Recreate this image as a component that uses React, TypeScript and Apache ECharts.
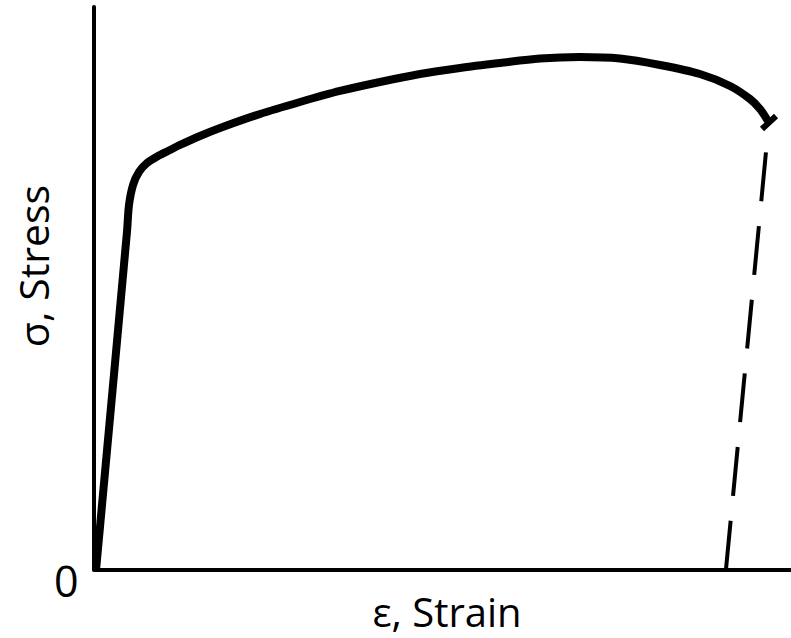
import React, { useEffect, useRef } from "react";
import * as echarts from "echarts";

// Stress–strain curve (abstract units: strain 0–100, stress 0–100)
const curveStrain = [0.3, 4.73, 5.02, 5.6, 6.46, 7.6, 9.18, 10.9, 12.34, 15.21, 18.08, 23.82, 29.56, 35.29, 41.03, 46.77, 52.51, 58.25, 63.99, 69.73, 75.47, 81.21, 86.94, 91.25, 94.12, 95.55, 96.7];
const curveStress = [0, 60.0, 64.8, 68.36, 70.67, 72.27, 73.51, 74.58, 75.47, 77.07, 78.49, 80.98, 83.11, 85.07, 86.67, 88.09, 89.16, 90.04, 90.84, 91.11, 90.84, 89.69, 88.09, 85.96, 83.64, 81.87, 79.73];

// Fracture mark at the end of the curve
const fractureStrain = [95.84, 97.85];
const fractureStress = [78.31, 80.62];

// Elastic unloading (dashed) line
const unloadStrain = [90.67, 96.41];
const unloadStress = [0, 74.22];

const originLabel = "0";
const xName = "ε, Strain";
const yName = "σ, Stress";

const zip = (a: number[], b: number[]) => a.map((v, i) => [v, b[i]]);

export default function App() {
  const ref = useRef<HTMLDivElement>(null);
  useEffect(() => {
    if (!ref.current) return;
    const chart = echarts.init(ref.current, null, { renderer: "svg" });
    const font = "'Open Sans', sans-serif";
    chart.setOption({
      animation: false,
      backgroundColor: "#ffffff",
      grid: { left: 94, right: 0, top: 7, bottom: 68.5, containLabel: false },
      xAxis: {
        type: "value",
        min: 0,
        max: 100,
        axisLine: { show: true, onZero: false, lineStyle: { color: "#000", width: 4 } },
        axisTick: { show: false },
        axisLabel: { show: false },
        splitLine: { show: false },
      },
      yAxis: {
        type: "value",
        min: 0,
        max: 100,
        axisLine: { show: true, onZero: false, lineStyle: { color: "#000", width: 4 } },
        axisTick: { show: false },
        axisLabel: { show: false },
        splitLine: { show: false },
      },
      graphic: [
        {
          type: "text",
          left: 54,
          top: 559,
          style: { text: originLabel, fontFamily: font, fontSize: 43, fill: "#000" },
        },
        {
          type: "text",
          x: 447,
          y: 611,
          style: { text: xName, fontFamily: font, fontSize: 40, fill: "#000", align: "center", verticalAlign: "middle" },
        },
        {
          type: "text",
          x: 33,
          y: 266,
          rotation: Math.PI / 2,
          style: { text: yName, fontFamily: font, fontSize: 41, fill: "#000", align: "center", verticalAlign: "middle" },
        },
      ],
      series: [
        {
          type: "line",
          data: zip(curveStrain, curveStress),
          showSymbol: false,
          symbol: "none",
          smooth: 0.3,
          lineStyle: { color: "#000", width: 8, cap: "butt", join: "round" },
          z: 3,
        },
        {
          type: "line",
          data: zip(fractureStrain, fractureStress),
          symbol: "none",
          lineStyle: { color: "#000", width: 6, cap: "butt" },
          z: 3,
        },
        {
          type: "line",
          data: zip(unloadStrain, unloadStress),
          symbol: "none",
          lineStyle: { color: "#000", width: 4, type: [49, 25], cap: "butt" },
          z: 3,
        },
      ],
    });
    return () => chart.dispose();
  }, []);
  return <div ref={ref} style={{ width: 791, height: 638, position: "absolute", left: 0, top: 0 }} />;
}
